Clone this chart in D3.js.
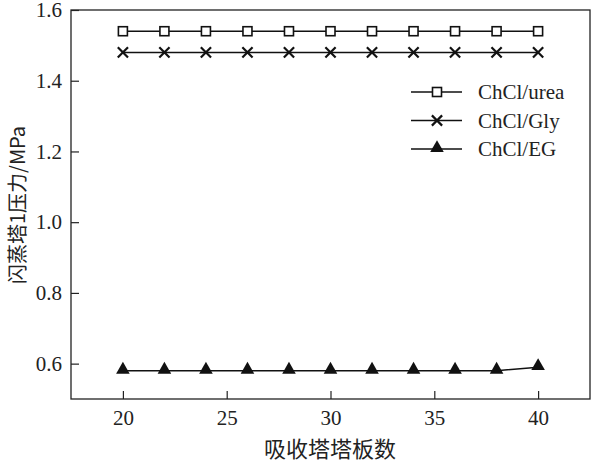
<!DOCTYPE html>
<html>
<head>
<meta charset="utf-8">
<script src="https://cdn.jsdelivr.net/npm/d3@7"></script>
<style>
body{margin:0;background:#fff;}
text{fill:#222;}
</style>
</head>
<body>
<div id="plot"></div>
<script>
// data
var plates = [20,22,24,26,28,30,32,34,36,38,40];
var urea = [1.54,1.54,1.54,1.54,1.54,1.54,1.54,1.54,1.54,1.54,1.54];
var gly = [1.48,1.48,1.48,1.48,1.48,1.48,1.48,1.48,1.48,1.48,1.48];
var eg = [0.58,0.58,0.58,0.58,0.58,0.58,0.58,0.58,0.58,0.58,0.59];
var seriesNames = ['ChCl/urea','ChCl/Gly','ChCl/EG'];
var xTicks = [20,25,30,35,40];
var yTicks = [0.6,0.8,1.0,1.2,1.4,1.6];

var W = 592, H = 463;
var margin = {t:10,r:2,b:64,l:71};
var width = W-margin.l-margin.r,
    height = H-margin.t-margin.b;

var svg = d3.select('#plot').append('svg')
    .attr('width',W).attr('height',H);

var plot = svg.append('g')
    .attr('transform','translate('+margin.l+','+margin.t+')');

var x = d3.scaleLinear().domain([17.5,42.5]).range([0,width]);
var y = d3.scaleLinear().domain([0.5,1.6]).range([height,0]);

var serif = '"Liberation Serif","Times New Roman",serif';

// frame
plot.append('rect')
    .attr('width',width).attr('height',height)
    .attr('fill','none').attr('stroke','#222').attr('stroke-width',1.3);

// axes with inward ticks
var xAxis = plot.append('g').attr('transform','translate(0,'+height+')')
    .call(d3.axisBottom(x).tickValues(xTicks).tickSizeInner(-8).tickSizeOuter(0).tickPadding(11));
var yAxis = plot.append('g')
    .call(d3.axisLeft(y).tickValues(yTicks).tickSizeInner(-8).tickSizeOuter(0).tickPadding(9)
        .tickFormat(d3.format('.1f')));
[xAxis,yAxis].forEach(function(a){
    a.attr('font-family',serif).attr('font-size',21);
    a.select('.domain').remove();
    a.selectAll('line').attr('stroke','#222').attr('stroke-width',1.2);
    a.selectAll('text').style('font-family',serif).style('font-size','21px').attr('fill','#222');
});

var line = d3.line().x(function(d){return x(d[0]);}).y(function(d){return y(d[1]);});

var tri = d3.symbol().type(d3.symbolTriangle).size(80);
var cross = d3.symbol().type(d3.symbolX).size(70);

function drawMarker(g, type){
    if(type===0){
        g.append('rect').attr('x',-4.5).attr('y',-4.5).attr('width',9).attr('height',9)
            .attr('fill','#fff').attr('stroke','#111').attr('stroke-width',1.6);
    } else if(type===1){
        g.append('path').attr('d',cross()).attr('fill','none')
            .attr('stroke','#111').attr('stroke-width',2.2);
    } else {
        g.append('path').attr('d',tri()).attr('fill','#111').attr('transform','translate(0,-1)');
    }
}

[urea,gly,eg].forEach(function(vals,i){
    var pts = plates.map(function(p,j){return [p,vals[j]];});
    plot.append('path').datum(pts).attr('d',line)
        .attr('fill','none').attr('stroke','#111').attr('stroke-width',1.6);
    pts.forEach(function(p){
        var g = plot.append('g').attr('transform','translate('+x(p[0])+','+y(p[1])+')');
        drawMarker(g,i);
    });
});

// legend
var legend = svg.append('g');
seriesNames.forEach(function(name,i){
    var ly = 92 + i*28.5;
    legend.append('line').attr('x1',411).attr('x2',462).attr('y1',ly).attr('y2',ly)
        .attr('stroke','#111').attr('stroke-width',1.6);
    var g = legend.append('g').attr('transform','translate(437,'+ly+')');
    drawMarker(g,i);
    legend.append('text').attr('x',478).attr('y',ly+7)
        .style('font-family',serif).style('font-size','21px').text(name);
});

// axis titles
svg.append('text').attr('x',330).attr('y',457).attr('text-anchor','middle')
    .style('font-family','"Noto Sans CJK SC",sans-serif').style('font-size','22px')
    .text('吸收塔塔板数');
svg.append('text').attr('transform','translate(25,205) rotate(-90)').attr('text-anchor','middle')
    .style('font-family','"Noto Sans CJK SC",sans-serif').style('font-size','20px')
    .text('闪蒸塔1压力/MPa');
</script>
</body>
</html>
